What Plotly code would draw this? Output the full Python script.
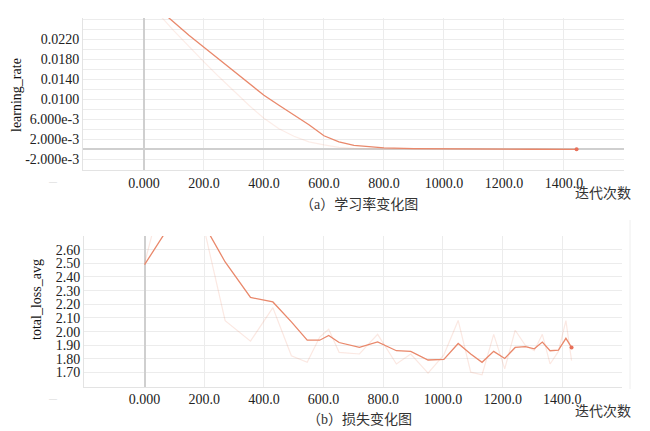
import plotly.graph_objects as go

# ---------------- data ----------------
lr_steps = [0, 50, 100, 150, 200, 250, 300, 350, 400, 450, 500, 550, 600, 650,
            700, 750, 800, 900, 1000, 1100, 1200, 1300, 1442]
lr_raw = [0.0330, 0.0270, 0.0237, 0.0205, 0.0175, 0.0145, 0.0116, 0.0088, 0.0062,
          0.0041, 0.0026, 0.0015, 0.0009, 0.0004, 0.0002, 0.0001, 0.00005,
          0.00002, 0.00001, 0.00001, 0.0, 0.0, 0.0]
lr_smooth = [0.0300, 0.0280, 0.0254, 0.0228, 0.0204, 0.0180, 0.0156, 0.0132, 0.0108,
             0.0088, 0.0069, 0.0049, 0.0027, 0.0015, 0.0008, 0.0005, 0.0003,
             0.00015, 0.00008, 0.00004, 0.00002, 0.00001, 0.0]

loss_steps = [0, 65, 135, 200, 270, 355, 430, 492, 545, 587, 617, 652, 720, 781,
              844, 892, 950, 1003, 1051, 1093, 1131, 1170, 1207, 1242, 1276, 1306,
              1333, 1359, 1387, 1412, 1431]
loss_raw = [2.50, 3.05, 3.20, 2.75, 2.08, 1.93, 2.175, 1.823, 1.775, 1.96, 2.017,
            1.848, 1.836, 1.98, 1.763, 1.835, 1.696, 1.83, 2.082, 1.703, 1.684,
            1.98, 1.727, 2.01, 1.90, 1.86, 1.98, 1.763, 1.855, 2.08, 1.787]
loss_smooth = [2.49, 2.71, 2.95, 2.78, 2.51, 2.25, 2.217, 2.071, 1.937, 1.937,
               1.972, 1.92, 1.884, 1.925, 1.86, 1.855, 1.792, 1.796, 1.913, 1.836,
               1.775, 1.855, 1.803, 1.884, 1.89, 1.874, 1.923, 1.86, 1.865, 1.951,
               1.884]

x_tickvals = [0, 200, 400, 600, 800, 1000, 1200, 1400, 1600]
x_ticktext = ["0.000", "200.0", "400.0", "600.0", "800.0", "1000.0", "1200.0", "1400.0", ""]

lr_tickvals = [-0.004, -0.002, 0.0, 0.002, 0.004, 0.006, 0.008, 0.010, 0.012,
               0.014, 0.016, 0.018, 0.020, 0.022, 0.024, 0.026]
lr_ticktext = ["", "-2.000e-3", "", "2.000e-3", "", "6.000e-3", "", "0.0100", "",
               "0.0140", "", "0.0180", "", "0.0220", "", ""]

loss_tickvals = [1.6, 1.7, 1.8, 1.9, 2.0, 2.1, 2.2, 2.3, 2.4, 2.5, 2.6, 2.7]
loss_ticktext = ["", "1.70", "1.80", "1.90", "2.00", "2.10", "2.20", "2.30", "2.40",
                 "2.50", "2.60", ""]

# ---------------- style ----------------
OFF = 8                      # default page body margin
W, H = 650 - OFF, 431 - OFF  # figure size so it ends exactly at the window edge
SER = "Liberation Serif, Times New Roman, serif"
CJK = "Liberation Serif, Noto Sans CJK SC, sans-serif"
SMOOTH = "#e9886b"
RAW = "rgba(236,140,112,0.16)"
GRID = "#ececec"
ZERO = "#cfcfcf"


def px_x(p):
    return (p - OFF) / W


def px_y(p):
    return 1 - (p - OFF) / H


fig = go.Figure()

fig.add_trace(go.Scatter(x=lr_steps, y=lr_raw, mode="lines",
                         line=dict(color=RAW, width=1.2), xaxis="x", yaxis="y",
                         showlegend=False, hoverinfo="skip"))
fig.add_trace(go.Scatter(x=lr_steps, y=lr_smooth, mode="lines",
                         line=dict(color=SMOOTH, width=1.3), xaxis="x", yaxis="y",
                         showlegend=False))
fig.add_trace(go.Scatter(x=lr_steps[-1:], y=lr_smooth[-1:], mode="markers",
                         marker=dict(color="#e8705a", size=4), xaxis="x", yaxis="y",
                         showlegend=False))

fig.add_trace(go.Scatter(x=loss_steps, y=loss_raw, mode="lines",
                         line=dict(color="rgba(236,140,112,0.2)", width=1.2),
                         xaxis="x2", yaxis="y2", showlegend=False, hoverinfo="skip"))
fig.add_trace(go.Scatter(x=loss_steps, y=loss_smooth, mode="lines",
                         line=dict(color=SMOOTH, width=1.3), xaxis="x2", yaxis="y2",
                         showlegend=False))
fig.add_trace(go.Scatter(x=loss_steps[-1:], y=loss_smooth[-1:], mode="markers",
                         marker=dict(color="#e8705a", size=4), xaxis="x2", yaxis="y2",
                         showlegend=False))

xcommon = dict(range=[-203, 1600], tickmode="array", tickvals=x_tickvals,
               ticktext=x_ticktext, showgrid=True, gridcolor=GRID, gridwidth=1,
               zeroline=True, zerolinecolor=ZERO, zerolinewidth=1.6,
               showline=True, linecolor="#e3e3e3", linewidth=1, ticks="",
               tickfont=dict(family=SER, size=14, color="#222"))

fig.update_layout(
    width=W, height=H,
    margin=dict(l=0, r=0, t=0, b=0),
    paper_bgcolor="white", plot_bgcolor="white",
    xaxis=dict(domain=[px_x(83), px_x(624)], anchor="y", **xcommon),
    yaxis=dict(domain=[px_y(170), px_y(18)], anchor="x", range=[-0.00414, 0.02626],
               tickmode="array", tickvals=lr_tickvals, ticktext=lr_ticktext,
               showgrid=True, gridcolor=GRID, zeroline=True, zerolinecolor=ZERO,
               zerolinewidth=2.2, showline=True, linecolor="#e3e3e3", ticks="",
               tickfont=dict(family=SER, size=14, color="#222")),
    xaxis2=dict(domain=[px_x(84), px_x(622)], anchor="y2", **xcommon),
    yaxis2=dict(domain=[px_y(386.5), px_y(236)], anchor="x2", range=[1.598, 2.70],
                tickmode="array", tickvals=loss_tickvals, ticktext=loss_ticktext,
                showgrid=True, gridcolor=GRID, zeroline=False, showline=True,
                linecolor="#e3e3e3", ticks="",
                tickfont=dict(family=SER, size=14, color="#222")),
)

annos = [
    dict(text="learning_rate", x=px_x(17), y=px_y(95), textangle=-90,
         font=dict(family=SER, size=14, color="#111")),
    dict(text="total_loss_avg", x=px_x(36), y=px_y(300), textangle=-90,
         font=dict(family=SER, size=14, color="#111")),
    dict(text="迭代次数", x=px_x(603), y=px_y(193),
         font=dict(family=CJK, size=14, color="#333")),
    dict(text="迭代次数", x=px_x(603), y=px_y(411),
         font=dict(family=CJK, size=14, color="#333")),
    dict(text="（a）学习率变化图", x=px_x(359), y=px_y(204),
         font=dict(family=CJK, size=14, color="#333")),
    dict(text="（b）损失变化图", x=px_x(359), y=px_y(419),
         font=dict(family=CJK, size=14, color="#333")),
    dict(text="—", x=px_x(53), y=px_y(182),
         font=dict(family=SER, size=8, color="#d6d6d6")),
    dict(text="—", x=px_x(53), y=px_y(398),
         font=dict(family=SER, size=8, color="#d6d6d6")),
]
for a in annos:
    a.update(xref="paper", yref="paper", showarrow=False, xanchor="center",
             yanchor="middle")
fig.update_layout(annotations=annos)

fig.add_shape(type="line", xref="paper", yref="paper", x0=px_x(630), x1=px_x(630),
              y0=px_y(220), y1=px_y(389), line=dict(color="#eeeeee", width=1))

fig.write_html("out.html")
